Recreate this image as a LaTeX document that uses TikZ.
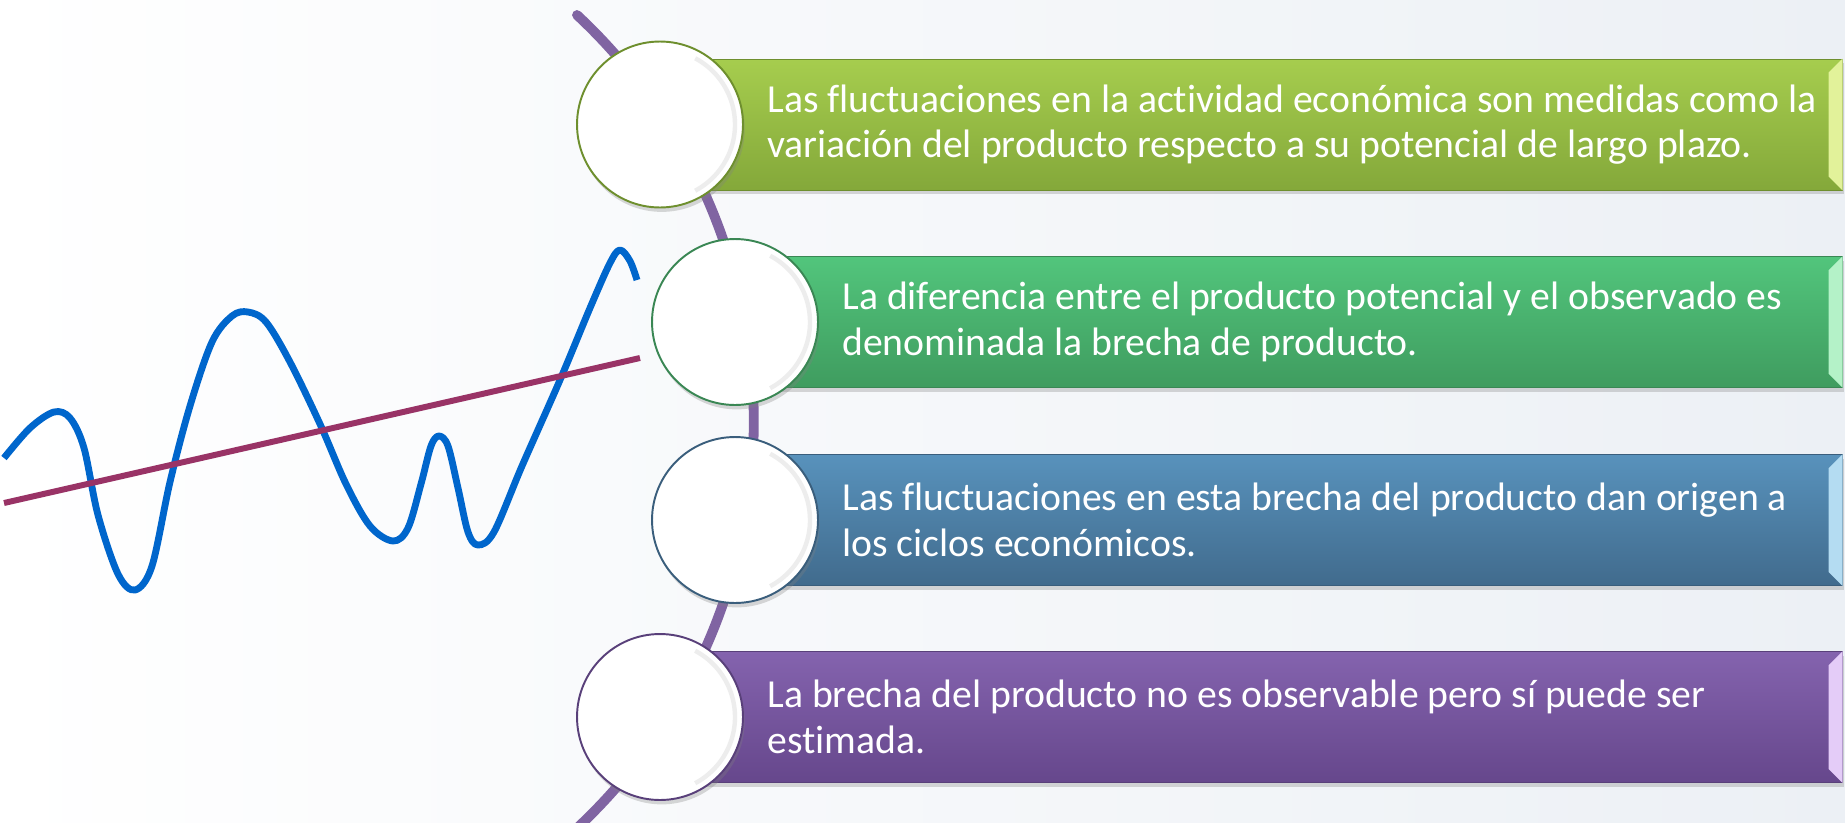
\documentclass[tikz,border=0pt]{standalone}
\usepackage{fontspec}
\setmainfont{Carlito}[Ligatures=NoCommon]
\usepackage{tikz}
\usetikzlibrary{positioning,shadows}

\definecolor{arcpurple}{HTML}{8064A2}
\definecolor{wavblue}{HTML}{0066CC}
\definecolor{trendred}{HTML}{993366}
\definecolor{bgblue}{HTML}{ECF0F5}
% item colours: top, bottom, border, bevel
\definecolor{limetop}{HTML}{A6CD4E}
\definecolor{limebot}{HTML}{84A83A}
\definecolor{limeln}{HTML}{6E8F2E}
\definecolor{limebev}{HTML}{E2F29A}
\definecolor{grntop}{HTML}{52C57C}
\definecolor{grnbot}{HTML}{3F9C5F}
\definecolor{grnln}{HTML}{3A8754}
\definecolor{grnbev}{HTML}{B4F2C8}
\definecolor{bluetop}{HTML}{5892BC}
\definecolor{bluebot}{HTML}{416B8D}
\definecolor{blueln}{HTML}{3A5E7C}
\definecolor{bluebev}{HTML}{B4DCF2}
\definecolor{purtop}{HTML}{8463AE}
\definecolor{purbot}{HTML}{66478C}
\definecolor{purln}{HTML}{59407A}
\definecolor{purbev}{HTML}{E4CCF8}

\tikzset{
  itembox/.style n args={3}{
    rectangle,draw=#3,line width=0.5pt,top color=#1,bottom color=#2,
    minimum height=2.62cm,anchor=west,inner sep=0pt,
    drop shadow={opacity=0.3,shadow xshift=1pt,shadow yshift=-2.5pt}
  },
  itemcirc/.style={
    circle,draw=#1,line width=1.1pt,fill=white,minimum size=3.32cm,inner sep=0pt,
    drop shadow={opacity=0.3,shadow xshift=1pt,shadow yshift=-2.5pt}
  },
  itemtext/.style={
    text=white,align=left,inner sep=0pt,anchor=west,
    font=\fontsize{22.6}{25.8}\selectfont
  },
  rim/.style={black!7,line width=2.5pt},
  arcline/.style={arcpurple,line width=5.6pt,line cap=round},
  wave/.style={wavblue,line width=3.9pt,line join=round},
  trend/.style={trendred,line width=3.4pt}
}

\begin{document}
\begin{tikzpicture}[x=0.02cm,y=-0.02cm]
  \useasboundingbox (0,0) rectangle (1845,822);
  \fill[left color=white,right color=bgblue] (0,0) rectangle (1845,822);

  % Arc
  \draw[arcline] (577,15) arc[start angle=47,end angle=-47,radius=11.12cm];

  % Cycle and trend
  \draw[wave] plot[smooth,tension=0.55] coordinates {
    (4,458) (30,428) (54,412) (70,418) (84,448) (98,515) (118,574) (135,590)
    (152,566) (170,482) (190,406) (212,342) (232,316) (248,312) (266,322)
    (290,362) (320,424) (346,484) (370,526) (393,541) (408,528) (421,484)
    (431,446) (439,436) (448,446) (458,488) (468,532) (478,545) (494,532)
    (522,466) (560,380) (590,308) (610,263) (620,250) (630,261) (637,280)};
  \draw[trend] (4,503) -- (640,358);

  % Item 1
  \node[itembox={limetop}{limebot}{limeln},minimum width=23.64cm] (box1) at (660,124.5) {};
  \fill[limebev] ([xshift=-0.28cm,yshift=-0.28cm]box1.north east) -- (box1.north east)
    -- (box1.south east) -- ([xshift=-0.28cm,yshift=0.28cm]box1.south east) -- cycle;
  \node[itemcirc=limeln] (circ1) at (box1.west) {};
  \draw[rim] ([shift={(62:1.5cm)}]circ1.center) arc[start angle=62,end angle=-62,radius=1.5cm];
  \node[itemtext,right=2.14cm of box1.west] (txt1)
    {Las fluctuaciones en la actividad económica son medidas como la\\
     variación del producto respecto a su potencial de largo plazo.};

  % Item 2
  \node[itembox={grntop}{grnbot}{grnln},minimum width=22.14cm] (box2) at (735,322) {};
  \fill[grnbev] ([xshift=-0.28cm,yshift=-0.28cm]box2.north east) -- (box2.north east)
    -- (box2.south east) -- ([xshift=-0.28cm,yshift=0.28cm]box2.south east) -- cycle;
  \node[itemcirc=grnln] (circ2) at (box2.west) {};
  \draw[rim] ([shift={(62:1.5cm)}]circ2.center) arc[start angle=62,end angle=-62,radius=1.5cm];
  \node[itemtext,right=2.14cm of box2.west] (txt2)
    {La diferencia entre el producto potencial y el observado es\\
     denominada la brecha de producto.};

  % Item 3
  \node[itembox={bluetop}{bluebot}{blueln},minimum width=22.14cm] (box3) at (735,520) {};
  \fill[bluebev] ([xshift=-0.28cm,yshift=-0.28cm]box3.north east) -- (box3.north east)
    -- (box3.south east) -- ([xshift=-0.28cm,yshift=0.28cm]box3.south east) -- cycle;
  \node[itemcirc=blueln] (circ3) at (box3.west) {};
  \draw[rim] ([shift={(62:1.5cm)}]circ3.center) arc[start angle=62,end angle=-62,radius=1.5cm];
  \node[itemtext,right=2.14cm of box3.west] (txt3)
    {Las fluctuaciones en esta brecha del producto dan origen a\\
     los ciclos económicos.};

  % Item 4
  \node[itembox={purtop}{purbot}{purln},minimum width=23.64cm] (box4) at (660,717) {};
  \fill[purbev] ([xshift=-0.28cm,yshift=-0.28cm]box4.north east) -- (box4.north east)
    -- (box4.south east) -- ([xshift=-0.28cm,yshift=0.28cm]box4.south east) -- cycle;
  \node[itemcirc=purln] (circ4) at (box4.west) {};
  \draw[rim] ([shift={(62:1.5cm)}]circ4.center) arc[start angle=62,end angle=-62,radius=1.5cm];
  \node[itemtext,right=2.14cm of box4.west] (txt4)
    {La brecha del producto no es observable pero sí puede ser\\
     estimada.};
\end{tikzpicture}
\end{document}
